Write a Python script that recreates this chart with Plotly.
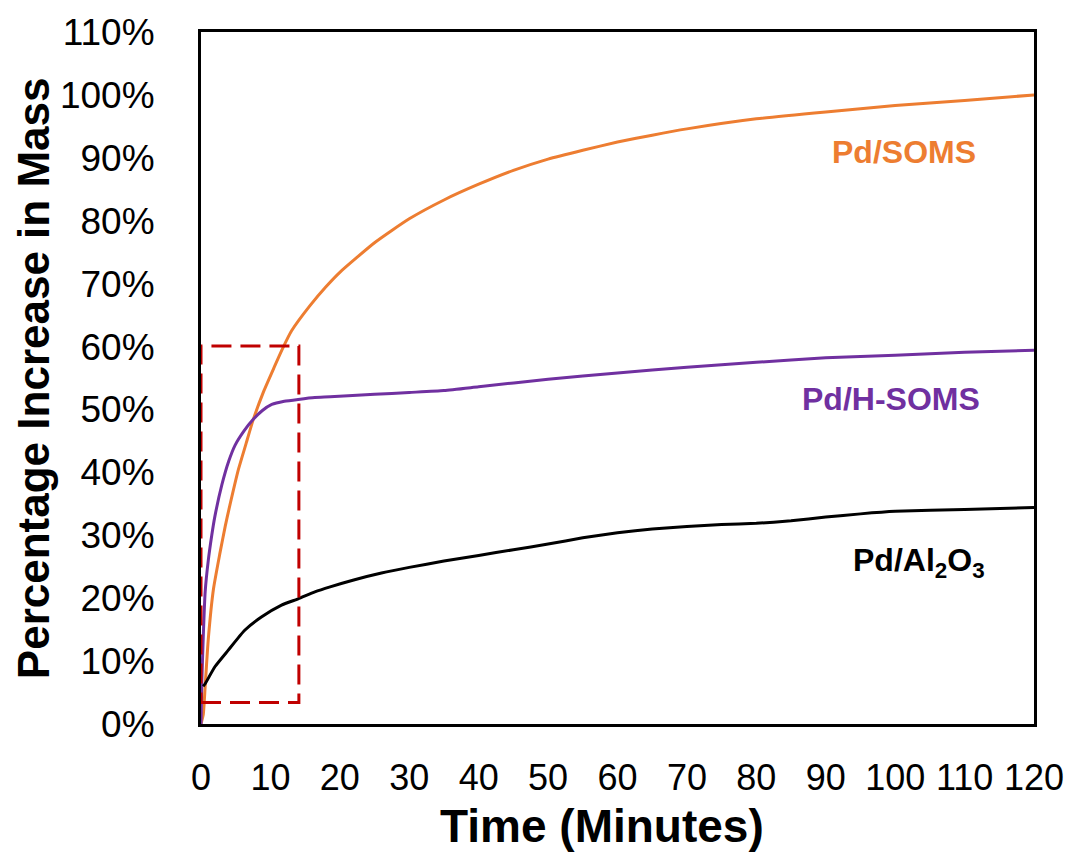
import plotly.graph_objects as go

# Mass uptake over time (percentage increase in mass)
soms_t = [0, 0.33, 0.6, 1.05, 1.8, 2.7, 3.5, 4, 5.4, 6.5, 7.5, 9, 10.5, 11.85, 13.05, 15.7,
          18, 20, 25, 30, 35, 40, 45, 50, 55, 60, 65, 70, 80, 90, 100, 110, 120]
soms_y = [0, 1.5, 6, 13.5, 21.5, 27, 31.5, 34, 40.5, 44.6, 48.3, 52.8, 56.6, 59.9, 62.5, 66.5,
          69.5, 71.8, 76.5, 80.3, 83.3, 85.8, 88, 89.8, 91.2, 92.5, 93.6, 94.6, 96.2, 97.3,
          98.3, 99.1, 100]

hsoms_t = [0, 0.1, 0.33, 0.6, 1.05, 1.55, 2.0, 3.0, 4.0, 4.9, 6.2, 7.5, 8.8, 10.2, 12, 14,
           16.4, 18.6, 25, 30, 35, 40, 50, 60, 70, 80, 90, 100, 110, 120]
hsoms_y = [0, 6, 14, 21, 26, 30, 33, 38, 41.8, 44.3, 46.6, 48.4, 49.8, 50.8, 51.3, 51.6,
           51.9, 52.0, 52.4, 52.7, 53, 53.6, 54.8, 55.8, 56.7, 57.5, 58.2, 58.6, 59.1, 59.4]

al2o3_t = [0.3, 0.6, 2.0, 3.9, 6.3, 8.7, 11.6, 14, 16.4, 18.6, 22, 26, 30, 35, 40, 45, 50,
           55, 60, 65, 70, 75, 80, 85, 90, 95, 100, 110, 120]
al2o3_y = [6.0, 6.4, 9.1, 11.7, 14.9, 17.0, 18.9, 19.9, 21.0, 21.8, 22.9, 24.0, 24.9, 25.9,
           26.8, 27.7, 28.6, 29.6, 30.4, 31.0, 31.4, 31.7, 31.9, 32.3, 32.9, 33.4, 33.8,
           34.1, 34.4]

x_ticks = list(range(0, 121, 10))
y_ticks = list(range(0, 111, 10))
y_tick_text = [f"{v}%" for v in y_ticks]

# Region highlighted by the dashed box (minutes, percent)
box_x = [0, 14.1]
box_y = [3.4, 60.1]

ORANGE = "#ED7D31"
PURPLE = "#7030A0"
BLACK = "#000000"
RED = "#C00000"
FONT = "Liberation Sans, Arial, sans-serif"

fig = go.Figure()
for t, y, color, name in [
    (soms_t, soms_y, ORANGE, "Pd/SOMS"),
    (hsoms_t, hsoms_y, PURPLE, "Pd/H-SOMS"),
    (al2o3_t, al2o3_y, BLACK, "Pd/Al2O3"),
]:
    fig.add_trace(go.Scatter(
        x=t, y=y, mode="lines", name=name,
        line=dict(color=color, width=3, shape="spline", smoothing=0.5),
        showlegend=False, hoverinfo="x+y",
    ))

fig.add_shape(type="rect", xref="x", yref="y",
              x0=box_x[0], x1=box_x[1], y0=box_y[0], y1=box_y[1],
              line=dict(color=RED, width=3, dash="20px,9px"), layer="above")

labels = [
    ("Pd/SOMS", 101.2, 91.0, ORANGE),
    ("Pd/H-SOMS", 99.4, 51.7, PURPLE),
    ("Pd/Al<sub>2</sub>O<sub>3</sub>", 103.5, 25.7, BLACK),
]
for text, x, y, color in labels:
    fig.add_annotation(x=x, y=y, xref="x", yref="y", text=f"<b>{text}</b>",
                       showarrow=False, font=dict(family=FONT, size=32, color=color))

# Axis titles
fig.add_annotation(text="<b>Time (Minutes)</b>", xref="paper", yref="paper",
                   x=0.481, y=-0.147, xanchor="center", yanchor="middle",
                   showarrow=False, font=dict(family=FONT, size=46, color="black"))
fig.add_annotation(text="<b>Percentage Increase in Mass</b>", xref="paper", yref="paper",
                   x=-0.2015, y=0.5, xanchor="center", yanchor="middle", textangle=-90,
                   showarrow=False, font=dict(family=FONT, size=44, color="black"))

fig.update_layout(
    width=1076, height=858,
    margin=dict(l=201, r=41, t=30, b=134),
    paper_bgcolor="white", plot_bgcolor="white",
    font=dict(family=FONT, color="black"),
)
fig.update_xaxes(
    range=[0, 120], tickmode="array", tickvals=x_ticks, ticks="", showgrid=False,
    zeroline=False, showline=True, linecolor="black", linewidth=3, mirror=True,
    tickfont=dict(size=36, family=FONT), ticklabelstandoff=20,
)
fig.update_yaxes(
    range=[0, 110], tickmode="array", tickvals=y_ticks, ticktext=y_tick_text, ticks="",
    showgrid=False, zeroline=False, showline=True, linecolor="black", linewidth=3,
    mirror=True, tickfont=dict(size=37, family=FONT), ticklabelstandoff=36,
)

fig.write_html("out.html")
